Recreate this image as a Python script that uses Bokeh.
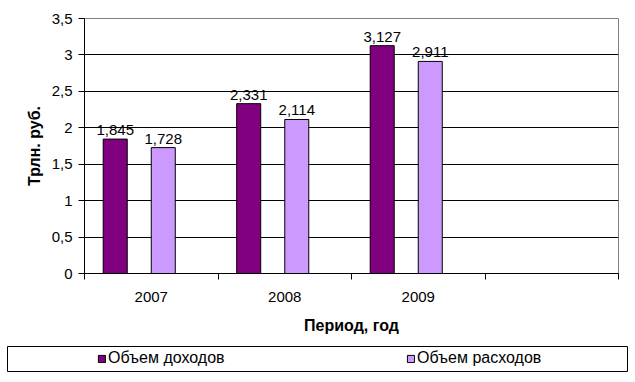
from bokeh.plotting import figure
from bokeh.models import (ColumnDataSource, FixedTicker, Range1d, Legend, LegendItem,
                          CustomJSTickFormatter)
from bokeh.embed import file_html
from bokeh.resources import INLINE
from bokeh.core.properties import value

# ---- data ----
categories = ["2007", "2008", "2009", ""]
income = [1.845, 2.331, 3.127]
expenses = [1.728, 2.114, 2.911]
series_names = ["Объем доходов", "Объем расходов"]
y_ticks = [0, 0.5, 1, 1.5, 2, 2.5, 3, 3.5]
x_title = "Период, год"
y_title = "Трлн. руб."

FONT = "Liberation Sans"
W = 628
C1, C2 = "#800080", "#CC99FF"


def fmt(v):
    return f"{v:.3f}".replace(".", ",")


p = figure(width=W, height=342, output_backend="svg", toolbar_location=None,
           x_range=Range1d(0, len(categories)), y_range=Range1d(y_ticks[0], y_ticks[-1]),
           min_border_left=84, min_border_right=10, min_border_top=18, min_border_bottom=69,
           outline_line_color="#808080", background_fill_color="white",
           border_fill_color="white")

idx = list(range(len(income)))
src1 = ColumnDataSource(dict(x=[i + 0.5 - 0.27 for i in idx], top=income,
                             label=[fmt(v) for v in income]))
src2 = ColumnDataSource(dict(x=[i + 0.5 + 0.09 for i in idx], top=expenses,
                             label=[fmt(v) for v in expenses]))

p.vbar(x="x", top="top", width=0.18, source=src1, fill_color=C1,
       line_color="black", line_width=1)
p.vbar(x="x", top="top", width=0.18, source=src2, fill_color=C2,
       line_color="black", line_width=1)

for s in (src1, src2):
    p.text(x="x", y="top", text="label", source=s, text_align="center",
           text_baseline="alphabetic", y_offset=-9, text_font=value(FONT),
           text_font_size="15px", text_color="black")

# x axis
p.xaxis.ticker = FixedTicker(ticks=[i + 0.5 for i, c in enumerate(categories) if c],
                             minor_ticks=list(range(len(categories) + 1)))
p.xaxis.major_label_overrides = {i + 0.5: c for i, c in enumerate(categories) if c}
p.xaxis.major_tick_out = 6
p.xaxis.major_tick_in = 0
p.xaxis.minor_tick_line_color = "black"
p.xaxis.minor_tick_out = 6
p.xaxis.minor_tick_in = 0
p.xaxis.major_label_standoff = 12
p.xaxis.axis_label = x_title
p.xaxis.axis_label_standoff = 12

# y axis
p.yaxis.ticker = FixedTicker(ticks=y_ticks)
p.yaxis.formatter = CustomJSTickFormatter(code="return String(tick).replace('.', ',')")
p.yaxis.major_tick_out = 6
p.yaxis.major_tick_in = 0
p.yaxis.minor_tick_line_color = None
p.yaxis.major_label_standoff = 6
p.yaxis.axis_label = y_title
p.yaxis.axis_label_standoff = 6

for ax in (p.xaxis, p.yaxis):
    ax.axis_line_color = "black"
    ax.major_label_text_font = FONT
    ax.major_label_text_font_size = "15px"
    ax.major_label_text_color = "black"
    ax.axis_label_text_font = FONT
    ax.axis_label_text_font_size = "16px"
    ax.axis_label_text_font_style = "bold"
    ax.axis_label_text_color = "black"
p.xaxis.major_tick_line_color = None
p.yaxis.major_tick_line_color = "black"

p.xgrid.visible = False
p.ygrid.ticker = FixedTicker(ticks=[t for t in y_ticks if 0 < t < y_ticks[-1]])
p.ygrid.grid_line_color = "black"
p.ygrid.grid_line_width = 1

# legend panel: a separate root; its frame outline is the legend box
lg = figure(width=W, height=33, output_backend="svg", toolbar_location=None,
            x_range=Range1d(0, 1), y_range=Range1d(0, 1),
            x_axis_location=None, y_axis_location=None,
            min_border_left=7, min_border_right=1, min_border_top=4, min_border_bottom=4,
            outline_line_color="black", background_fill_color="white",
            border_fill_color="white")
lg.xgrid.visible = False
lg.ygrid.visible = False
lr1 = lg.vbar(x="x", top="top", width=0.18, source=src1, fill_color=C1,
              line_color="black", line_width=1, visible=False)
lr2 = lg.vbar(x="x", top="top", width=0.18, source=src2, fill_color=C2,
              line_color="black", line_width=1, visible=False)
legend = Legend(items=[LegendItem(label=series_names[0], renderers=[lr1]),
                       LegendItem(label=series_names[1], renderers=[lr2])],
                orientation="horizontal", location=(90, 3),
                border_line_color=None, background_fill_alpha=0,
                padding=0, margin=0, spacing=168, glyph_width=9, glyph_height=9,
                label_standoff=2, label_width=130, label_height=20,
                label_text_font=FONT, label_text_font_size="16px",
                label_text_color="black")
lg.add_layout(legend, "center")

open("out.html", "w").write(file_html([p, lg], INLINE))
